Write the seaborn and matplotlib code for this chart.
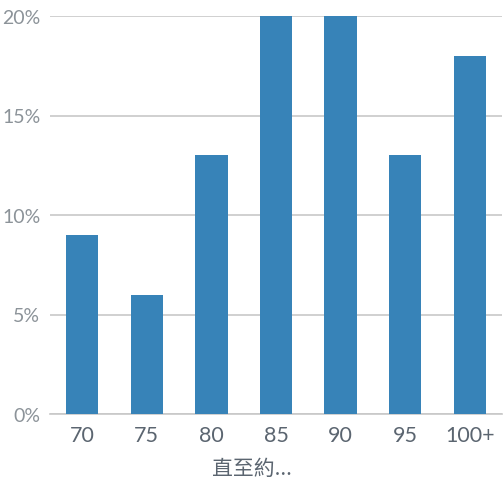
import seaborn as sns
import matplotlib.pyplot as plt
import pandas as pd
from matplotlib.ticker import PercentFormatter

categories = ['70', '75', '80', '85', '90', '95', '100+']
shares = [9, 6, 13, 20, 20, 13, 18]
y_ticks = [0, 5, 10, 15, 20]

df = pd.DataFrame({'score': categories, 'share': shares})

sns.set_style('white')
plt.rcParams['font.family'] = ['Lato', 'Noto Sans CJK TC', 'DejaVu Sans']

fig = plt.figure(figsize=(5.03, 4.81), dpi=100)
ax = fig.add_axes([50 / 503, 1 - 415 / 481, 452 / 503, 398 / 481])

sns.barplot(data=df, x='score', y='share', color='#3783b8', width=0.5,
            saturation=1, linewidth=0, ax=ax, zorder=3)

ax.set_ylim(0, 20)
ax.set_yticks(y_ticks)
ax.yaxis.set_major_formatter(PercentFormatter(decimals=0))
ax.grid(axis='y', color='#c8c8c8', linewidth=1.2, zorder=0)
ax.set_axisbelow(True)
for s in ['top', 'right', 'left']:
    ax.spines[s].set_visible(False)
ax.spines['bottom'].set_color('#c8c8c8')
ax.spines['bottom'].set_linewidth(1.2)

ax.tick_params(axis='y', length=0, pad=7, labelsize=14, labelcolor='#8c9399')
ax.tick_params(axis='x', length=0, pad=8, labelsize=15.5, labelcolor='#5b6570')
ax.set_ylabel('')
ax.set_xlabel('')
# axis title sits centred on the whole figure, not the plot area
fig.text(0.5, 1 - 469 / 481, '直至約...', fontsize=15, color='#5b6570',
         ha='center', va='center',
         family=['Noto Sans CJK TC', 'DejaVu Sans'])

fig.savefig('out.png', dpi=100)
